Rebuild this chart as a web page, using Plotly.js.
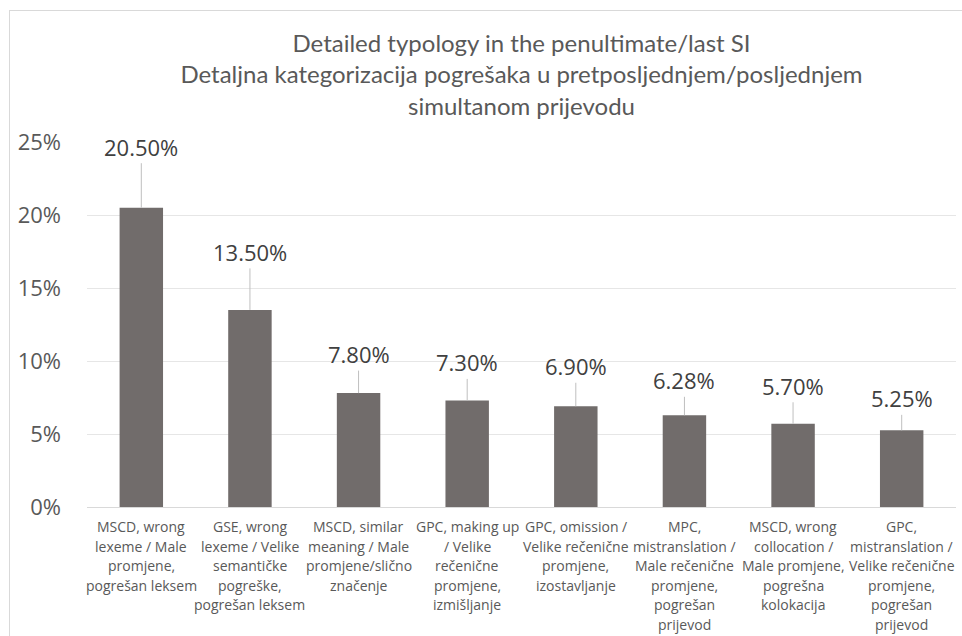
<!DOCTYPE html>
<html><head><meta charset="utf-8">
<script src="https://cdn.plot.ly/plotly-3.0.1.min.js"></script>
<style>
html,body{margin:0;padding:0;background:#fff;}
#frame{position:absolute;left:9px;top:10px;width:960px;height:640px;border:1px solid #D9D9D9;box-sizing:border-box;}
#chart{position:absolute;left:0;top:0;width:962px;height:636px;}
</style></head>
<body><div id="frame"></div><div id="chart"></div>
<script>
const categories = [
  "MSCD, wrong<br>lexeme / Male<br>promjene,<br>pogrešan leksem",
  "GSE, wrong<br>lexeme / Velike<br>semantičke<br>pogreške,<br>pogrešan leksem",
  "MSCD, similar<br>meaning / Male<br>promjene/slično<br>značenje",
  "GPC, making up<br>/ Velike<br>rečenične<br>promjene,<br>izmišljanje",
  "GPC, omission /<br>Velike rečenične<br>promjene,<br>izostavljanje",
  "MPC,<br>mistranslation /<br>Male rečenične<br>promjene,<br>pogrešan<br>prijevod",
  "MSCD, wrong<br>collocation /<br>Male promjene,<br>pogrešna<br>kolokacija",
  "GPC,<br>mistranslation /<br>Velike rečenične<br>promjene,<br>pogrešan<br>prijevod"
];
const values = [0.205, 0.135, 0.078, 0.073, 0.069, 0.0628, 0.057, 0.0525];
const labels = ["20.50%", "13.50%", "7.80%", "7.30%", "6.90%", "6.28%", "5.70%", "5.25%"];
const titleText = "Detailed typology in the penultimate/last SI<br>Detaljna kategorizacija pogrešaka u pretposljednjem/posljednjem<br>simultanom prijevodu";
const labelOffsets = [-61, -58, -39, -38, -40, -35, -38, -32];

const textColor = "#595959";
const trace = {
  type: "bar",
  x: categories,
  y: values,
  marker: {color: "#716C6B"},
  hoverinfo: "none"
};
const annotations = categories.map((c, i) => ({
  x: c, y: values[i], xref: "x", yref: "y",
  text: labels[i], showarrow: true, arrowhead: 0, arrowwidth: 1,
  arrowcolor: "#BFBFBF", ax: 0, ay: labelOffsets[i], standoff: 0,
  font: {family: "Open Sans, sans-serif", size: 22, color: "#404040"}
}));
// category labels, one annotation per line so the line spacing matches
categories.forEach((c, i) => {
  c.split("<br>").forEach((line, j) => {
    annotations.push({
      x: c, y: 0, xref: "x", yref: "y", text: line, showarrow: false,
      yanchor: "top", xanchor: "center", yshift: -8 - j * 19.6,
      font: {family: "Open Sans, sans-serif", size: 14, color: textColor}
    });
  });
});
const layout = {
  width: 962, height: 636,
  paper_bgcolor: "rgba(0,0,0,0)", plot_bgcolor: "rgba(0,0,0,0)",
  margin: {l: 87, r: 6, t: 142, b: 129},
  title: {
    text: titleText,
    x: 0.5, xanchor: "center", xref: "paper", yref: "container", y: 0.918, yanchor: "middle",
    font: {family: "Lato, sans-serif", size: 24, color: textColor}
  },
  bargap: 0.6,
  showlegend: false,
  xaxis: {
    showticklabels: false, range: [-0.5, 7.5],
    showline: true, linecolor: "#D9D9D9", linewidth: 1,
    ticks: "", automargin: false
  },
  yaxis: {
    range: [0, 0.25], dtick: 0.05, tickformat: ".0%",
    tickfont: {family: "Open Sans, sans-serif", size: 22, color: textColor},
    gridcolor: "#E6E6E6", gridwidth: 1, zeroline: false,
    ticklabelstandoff: 25, automargin: false
  },
  annotations: annotations
};
Plotly.newPlot("chart", [trace], layout, {displayModeBar: false, staticPlot: true});
</script></body></html>
